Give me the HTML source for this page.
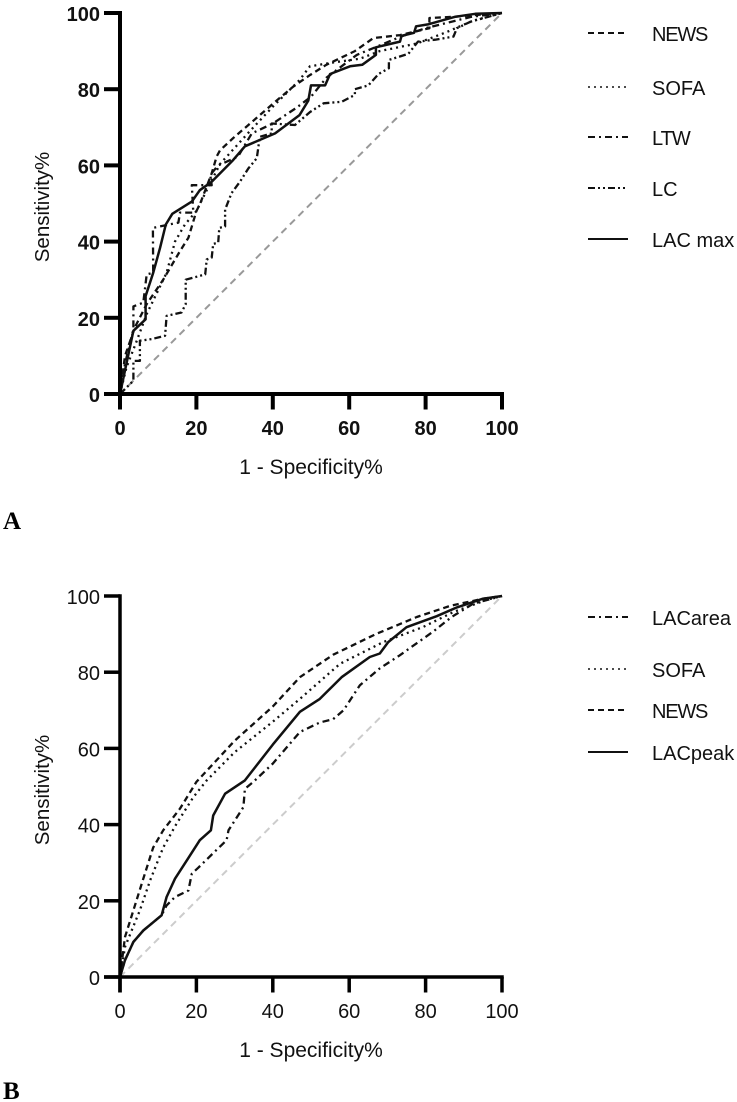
<!DOCTYPE html>
<html>
<head>
<meta charset="utf-8">
<title>ROC curves</title>
<style>
html,body{margin:0;padding:0;background:#fff;width:737px;height:1102px;overflow:hidden}
svg{display:block;filter:blur(.35px)}
text{font-family:"Liberation Sans",sans-serif;fill:#111}
</style>
</head>
<body>
<svg id="chart" xmlns="http://www.w3.org/2000/svg" width="737" height="1102" viewBox="0 0 737 1102"></svg>
<script>
const tickLabels = [0, 20, 40, 60, 80, 100];

const aLegend = ['NEWS', 'SOFA', 'LTW', 'LC', 'LAC max'];
const bLegend = ['LACarea', 'SOFA', 'NEWS', 'LACpeak'];

const aNewsX = [0,1.3,3.9,7,11.3,15.7,17.9,20,21,24,25.3,26.2,30,33.6,37.5,41,45.4,49.7,54,61.5,66.3,73.3,81,81,87.3,100];
const aNewsY = [0,10,17.5,23.6,30,37.5,41,48,50,57.9,62.3,64,67.5,70.6,74,77,80.7,83.7,86.4,90,93.4,94.2,96,98.7,99,100];
const aSofaX = [0,1.7,4.4,7,12.2,14.4,17,20,22.7,26.2,34,40,47,49.7,55.8,62.8,68,77.7,85.5,92.5,100];
const aSofaY = [0,7,14,21,31.8,40,44.5,48,53.5,60.4,69,75.4,82.4,86,87,88,90,92,95,98,100];
const aLtwX = [0,1.3,3.5,3.5,6.1,7,8.7,8.6,15.3,15.7,19.2,18.8,24,23.6,25.7,30.9,34.5,40,46,50,54,58,62,68,74,80,86,92,100];
const aLtwY = [0,7.9,17,23,24,31.4,31.8,43.6,45,47.6,47.6,54.8,54.8,57.5,60,62.3,68.4,71,75,78,83,86,89,91.5,94,96,97.5,99,100];
const aLcX = [0,3.5,3.5,5.2,5.2,8.3,11.8,12.2,16.1,17.2,17.2,22.3,22.7,24,24.4,25.7,26,27.5,27.5,29.2,31.4,33.6,35.8,36.6,39.7,39.7,45.8,49.7,53.3,58,61.5,61.5,65,67.7,70.4,70.4,75.5,78,82.5,87.3,88.2,91.7,100];
const aLcY = [0,3.5,8.7,8.7,14,14.4,15.3,20.5,21.4,23.6,30,31.4,35.3,35.8,39.4,39.7,43.6,44,48.4,52.7,55.7,59.2,61.9,67.5,68.4,71,70.6,74,76.3,76.7,78.5,80,81,84,85.5,87.7,89.3,92.5,93,93.8,96,97.7,100];
const aLacX = [0,3.5,6.7,6.7,8.7,10.5,12,13.7,18.8,20.9,24,29.6,32.7,40.6,47,49.3,50,53.7,55,60.2,63.4,67,67,73.3,73.7,77,77.5,80.6,84.2,87.7,93,100];
const aLacY = [0,16.6,19.6,25.7,31.8,38.4,44.5,47.3,50.5,53.5,55.7,61.4,65,68.4,73.2,77,81,81,84,86,86.4,89,91,92.5,94,94.8,96.5,97,98,99,99.8,100];

const bAreaX = [0,1.3,3.5,6.1,10.9,12.2,14.4,17.9,18.8,20.5,24.9,27.9,28.4,32.3,32.7,34.9,40,47.1,52.3,55.8,58.5,62.8,68,73.2,81.9,86.8,92.5,100];
const bAreaY = [0,4.4,9.2,12.2,16.2,18.8,21,22.7,27.1,28.7,33,35.9,38.5,44.6,49.4,51.2,56,64.3,66.8,67.7,70,76.6,81,84.4,90.6,94.5,98,100];
const bSofaX = [0,1.3,5.2,7.9,11.3,14.8,19.2,22.7,30,40,47.1,57.6,68.9,79.4,87.3,96,100];
const bSofaY = [0,7.9,17.5,25.4,34,40.2,47.2,51.6,59,67,73,82.2,87.9,91.9,95.8,99,100];
const bNewsX = [0,1.3,3.5,6.1,8.7,11.3,15.7,20,30,40,47.1,55.8,67.2,77.7,86.4,95.1,100];
const bNewsY = [0,10.5,17.5,25.8,34,38.5,44.2,51.2,62,71,78.7,84.6,90.1,94.5,97.4,99.3,100];
const bPeakX = [0,1.3,3.5,6.1,10.9,12.2,14.4,17.5,20.9,23.8,24.4,27.5,32.7,40,47.1,52.3,58,65.4,68,70.2,75,82.9,88.2,95,100];
const bPeakY = [0,4.4,9.2,12.2,16.2,21,25.8,30.6,35.9,38.5,42.4,48.1,51.6,61,69.6,73,78.7,84,84.9,87.9,91.8,94.7,97,99.3,100];

const NS = 'http://www.w3.org/2000/svg';
const svg = document.getElementById('chart');

function make(tag, attrs, parent) {
  const el = document.createElementNS(NS, tag);
  for (const k in attrs) el.setAttribute(k, attrs[k]);
  parent.appendChild(el);
  return el;
}
function xAxisFn(v) { return 120 + v * 3.82; }
function yAxisFn(y0) { return function (v) { return y0 - v * 3.81; }; }

function drawCurve(parent, xs, ys, yFn, dash, width, name) {
  let d = '';
  xs.forEach(function (x, i) {
    d += (i ? 'L' : 'M') + xAxisFn(x).toFixed(1) + ' ' + yFn(ys[i]).toFixed(1);
  });
  const p = make('path', {d: d, fill: 'none', stroke: '#111', 'stroke-width': width, 'stroke-dasharray': dash, 'stroke-linejoin': 'round'}, parent);
  
  
}

function drawLegendEntry(parent, label, y, dash, width) {
  const g = make('g', {}, parent);
  
  
  make('line', {x1: 588, x2: 628, y1: y, y2: y, stroke: '#111', 'stroke-width': width, 'stroke-dasharray': dash}, g);
  const spacing = label === 'NEWS' ? -1.2 : (label === 'LTW' ? -1 : 0);
  const t = make('text', {x: 652, y: y + 8, 'font-size': 20, 'letter-spacing': spacing}, g);
  t.textContent = label;
}

function drawPanel(opts) {
  const g = make('g', {}, svg);
  
  
  const yFn = yAxisFn(opts.y0);

  const ref = make('line', {x1: xAxisFn(0), y1: yFn(0), x2: xAxisFn(100), y2: yFn(100), stroke: opts.refColor, 'stroke-width': 2, 'stroke-dasharray': '7 5'}, g);
  
  

  opts.curves.forEach(function (c) {
    drawCurve(g, c.x, c.y, yFn, c.dash, c.w, c.name);
  });

  const axes = make('g', {stroke: '#000', 'stroke-width': opts.axisW, fill: 'none'}, g);
  
  
  make('line', {x1: xAxisFn(0), x2: xAxisFn(0), y1: yFn(100) - opts.axisW / 2, y2: yFn(0) + 15.5}, axes);
  make('line', {x1: 104, x2: xAxisFn(100) + opts.axisW / 2, y1: yFn(0), y2: yFn(0)}, axes);
  tickLabels.forEach(function (v) {
    make('line', {x1: 104, x2: xAxisFn(0), y1: yFn(v), y2: yFn(v)}, axes);
    make('line', {x1: xAxisFn(v), x2: xAxisFn(v), y1: yFn(0), y2: yFn(0) + 15.5}, axes);
    const ty = make('text', {x: 100, y: yFn(v) + 8, 'text-anchor': 'end', 'font-size': 20, 'font-weight': opts.tickWeight}, g);
    
    
    ty.textContent = v;
    const tx = make('text', {x: xAxisFn(v), y: yFn(0) + 41, 'text-anchor': 'middle', 'font-size': 20, 'font-weight': opts.tickWeight}, g);
    
    
    tx.textContent = v;
  });

  const xt = make('text', {x: 311, y: yFn(0) + 80, 'text-anchor': 'middle', 'font-size': 21}, g);
  
  
  xt.textContent = '1 - Specificity%';

  const yt = make('text', {x: 0, y: 0, 'text-anchor': 'middle', 'font-size': 20.5, transform: 'translate(49 ' + (opts.y0 - 187) + ') rotate(-90)'}, g);
  
  
  yt.textContent = 'Sensitivity%';

  opts.legend.forEach(function (l) {
    drawLegendEntry(g, l.label, l.y, l.dash, l.w);
  });

  const pl = make('text', {x: 3, y: opts.panelY, 'font-size': 25, 'font-weight': 'bold', style: 'font-family:"Liberation Serif",serif;fill:#000'}, g);
  
  
  pl.textContent = opts.panel;
}

const dashNews = '6 4';
const dashSofa = '2 4';
const dashLtw = '7 4 2 4';
const dashLc = '7 3 2 3 2 3';

drawPanel({
  name: 'panel-a-roc-chart', panel: 'A', panelY: 529, y0: 394, axisW: 4, tickWeight: 'bold', refColor: '#999',
  curves: [
    {x: aNewsX, y: aNewsY, dash: dashNews, w: 2.3, name: 'curve-news'},
    {x: aSofaX, y: aSofaY, dash: dashSofa, w: 2.3, name: 'curve-sofa'},
    {x: aLtwX, y: aLtwY, dash: dashLtw, w: 2.3, name: 'curve-ltw'},
    {x: aLcX, y: aLcY, dash: dashLc, w: 2.3, name: 'curve-lc'},
    {x: aLacX, y: aLacY, dash: 'none', w: 2.5, name: 'curve-lac-max'}
  ],
  legend: [
    {label: aLegend[0], y: 33, dash: dashNews, w: 2},
    {label: aLegend[1], y: 87, dash: dashSofa, w: 1.6},
    {label: aLegend[2], y: 137, dash: dashLtw, w: 2},
    {label: aLegend[3], y: 188, dash: dashLc, w: 2},
    {label: aLegend[4], y: 239, dash: 'none', w: 2}
  ]
});

drawPanel({
  name: 'panel-b-roc-chart', panel: 'B', panelY: 1099, y0: 977, axisW: 3.5, tickWeight: 'normal', refColor: '#ccc',
  curves: [
    {x: bAreaX, y: bAreaY, dash: dashLtw, w: 2.3, name: 'curve-lacarea'},
    {x: bSofaX, y: bSofaY, dash: dashSofa, w: 2.3, name: 'curve-sofa'},
    {x: bNewsX, y: bNewsY, dash: dashNews, w: 2.3, name: 'curve-news'},
    {x: bPeakX, y: bPeakY, dash: 'none', w: 2.5, name: 'curve-lacpeak'}
  ],
  legend: [
    {label: bLegend[0], y: 617, dash: dashLtw, w: 2},
    {label: bLegend[1], y: 669, dash: dashSofa, w: 1.6},
    {label: bLegend[2], y: 710, dash: dashNews, w: 2},
    {label: bLegend[3], y: 752, dash: 'none', w: 2}
  ]
});
</script>
</body>
</html>
